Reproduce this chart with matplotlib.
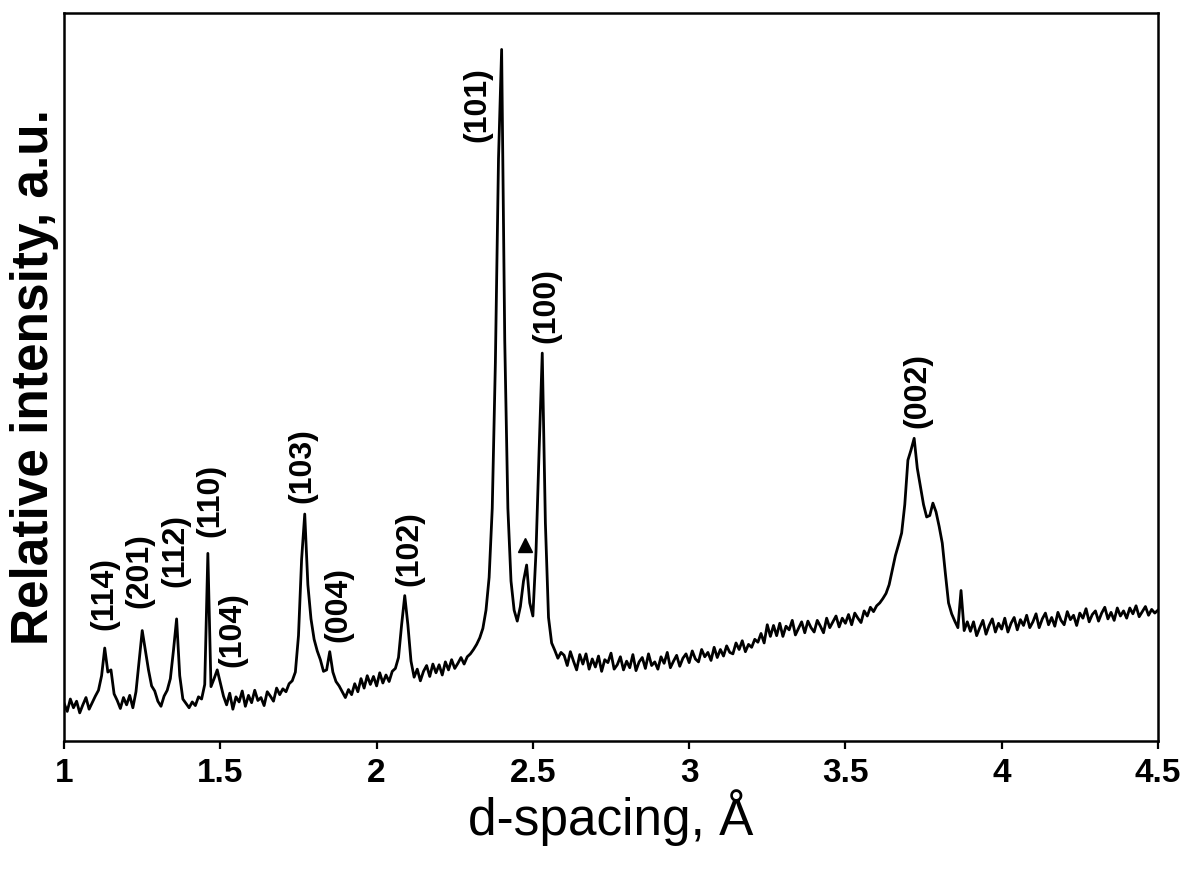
import numpy as np
import matplotlib
matplotlib.use("Agg")
import matplotlib.pyplot as plt

plt.rcParams['font.family'] = ['Liberation Sans', 'DejaVu Sans']

# d-spacing grid (A), step 0.01
d_start, d_stop, d_step = 1.00, 4.50, 0.01

# relative intensity, one row per 0.1 A
intensity = [
    5.2, 4.1, 5.8, 4.6, 5.5, 3.9, 5.0, 6.0, 4.4, 5.3,      # 1.00
    6.2, 7.0, 9.0, 12.8, 9.5, 9.8, 6.5, 5.6, 4.5, 6.0,     # 1.10
    5.0, 6.3, 4.6, 6.8, 11.0, 15.2, 12.5, 9.8, 7.6, 6.9,   # 1.20
    5.5, 4.8, 6.2, 7.0, 8.6, 12.5, 16.8, 9.0, 5.8, 5.2,    # 1.30
    4.6, 5.4, 4.9, 6.1, 5.8, 7.8, 25.8, 7.5, 8.6, 9.8,     # 1.40
    8.0, 6.2, 5.0, 6.6, 4.4, 6.1, 5.4, 6.9, 4.8, 6.3,      # 1.50
    5.3, 7.0, 5.6, 6.0, 4.9, 6.8, 6.2, 5.5, 7.3, 6.4,      # 1.60
    7.2, 6.8, 7.9, 8.3, 9.5, 14.5, 25.0, 31.2, 21.5, 16.8, # 1.70
    14.0, 12.4, 11.2, 9.6, 9.8, 12.3, 9.5, 8.2, 7.6, 6.8,  # 1.80
    6.0, 7.1, 6.4, 7.9, 6.8, 8.6, 7.3, 9.0, 7.8, 8.9,      # 1.90
    7.6, 9.4, 8.0, 9.1, 8.2, 9.6, 10.0, 11.5, 16.0, 20.0,  # 2.00
    16.0, 11.0, 8.8, 9.9, 8.3, 9.6, 10.4, 8.9, 10.6, 9.4,  # 2.10
    10.5, 9.1, 10.9, 9.8, 11.2, 10.0, 10.7, 11.5, 10.6, 11.6,    # 2.20
    12.0, 12.6, 13.3, 14.2, 15.5, 18.0, 22.5, 32.0, 52.0, 80.0,  # 2.30
    95.0, 55.0, 32.0, 22.0, 18.0, 16.5, 18.5, 22.0, 24.2, 19.0,  # 2.40
    17.2, 26.0, 40.0, 53.3, 30.0, 17.0, 13.5, 12.5, 11.4, 12.2,  # 2.50
    11.8, 10.4, 12.3, 11.0, 9.8, 11.9, 10.6, 12.0, 9.9, 11.3,    # 2.60
    10.2, 11.7, 9.6, 11.2, 10.8, 12.1, 9.9, 10.5, 11.6, 9.8,     # 2.70
    11.0, 10.1, 11.9, 9.7, 10.9, 11.5, 10.0, 12.0, 10.4, 10.9,   # 2.80
    9.9, 11.6, 10.7, 12.2, 10.1, 11.0, 11.8, 10.3, 11.4, 12.0,   # 2.90
    10.8, 12.4, 11.3, 10.9, 12.6, 11.6, 12.2, 11.1, 12.9, 11.5,  # 3.00
    12.6, 11.7, 13.1, 12.2, 12.0, 13.5, 12.6, 13.8, 12.3, 13.3,  # 3.10
    12.9, 14.0, 13.6, 14.8, 13.5, 16.0, 14.4, 15.9, 14.5, 16.2,  # 3.20
    14.4, 15.8, 15.3, 16.6, 14.6, 15.5, 16.4, 14.9, 16.5, 15.6,  # 3.30
    15.0, 16.6, 15.8, 14.9, 16.9, 15.6, 16.4, 17.2, 15.7, 16.9,  # 3.40
    16.2, 17.4, 16.0, 17.6, 16.9, 16.3, 17.9, 17.2, 18.4, 17.8,  # 3.50
    18.6, 19.0, 19.6, 20.3, 21.5, 23.5, 25.5, 27.0, 28.6, 32.5,  # 3.60
    38.6, 40.0, 41.6, 37.5, 35.0, 32.5, 30.8, 31.0, 32.7, 31.5,  # 3.70
    29.5, 27.2, 23.0, 19.0, 17.5, 16.5, 15.6, 20.7, 15.2, 16.4,  # 3.80
    15.1, 16.4, 14.5, 15.6, 16.6, 14.7, 15.9, 16.8, 15.0, 16.2,  # 3.90
    15.4, 16.9, 15.0, 16.2, 17.0, 15.3, 16.7, 15.9, 17.3, 15.6,  # 4.00
    16.4, 17.5, 15.6, 16.8, 17.6, 16.0, 17.0, 15.8, 17.7, 16.6,  # 4.10
    16.0, 17.8, 16.7, 17.3, 15.9, 17.6, 16.9, 18.2, 16.4, 17.4,  # 4.20
    17.9, 16.5, 17.6, 18.4, 16.8, 17.7, 16.6, 18.3, 17.2, 17.9,  # 4.30
    16.9, 18.3, 17.5, 18.6, 17.1, 17.8, 18.5, 17.3, 18.1, 17.6,  # 4.40
    18.0,                                                        # 4.50
]
d_spacing = np.round(np.arange(d_start, d_stop + d_step / 2, d_step), 2)

# peak labels (Miller indices) and where they sit
peak_labels = ['(114)', '(201)', '(112)', '(110)', '(104)', '(103)', '(004)',
               '(102)', '(101)', '(100)', '(002)']
label_d = [1.128, 1.240, 1.355, 1.467, 1.538, 1.762, 1.877, 2.104, 2.322, 2.543, 3.730]
label_i = [20.3, 23.5, 26.2, 33.1, 15.4, 37.9, 18.8, 26.4, 87.5, 59.9, 48.2]

# unindexed impurity peak marked with a triangle
marker_d = [2.476]
marker_i = [26.9]

fig = plt.figure(figsize=(11.87, 8.69), dpi=100)
ax = fig.add_axes([0.054, 0.147, 0.9215, 0.838])

ax.plot(d_spacing, intensity, color='black', lw=2.0)
ax.plot(marker_d, marker_i, marker='^', ms=10, color='black', ls='none')

for lab, x, y in zip(peak_labels, label_d, label_i):
    ax.text(x, y, lab, rotation=90, ha='center', va='center',
            fontsize=23, fontweight='bold')

ax.set_xlim(1, 4.5)
ax.set_ylim(0, 100)
ax.set_xticks([1, 1.5, 2, 2.5, 3, 3.5, 4, 4.5])
ax.set_xticklabels(['1', '1.5', '2', '2.5', '3', '3.5', '4', '4.5'])
ax.set_yticks([])
ax.tick_params(axis='x', direction='out', length=6, width=1.6, pad=6,
               labelsize=24)
for t in ax.get_xticklabels():
    t.set_fontweight('bold')
for sp in ax.spines.values():
    sp.set_linewidth(1.8)

ax.set_xlabel('d-spacing, Å', fontsize=37, labelpad=0)
ax.set_ylabel('Relative intensity, a.u.', fontsize=37, fontweight='bold',
              labelpad=4)

fig.savefig('out.png', dpi=100)
